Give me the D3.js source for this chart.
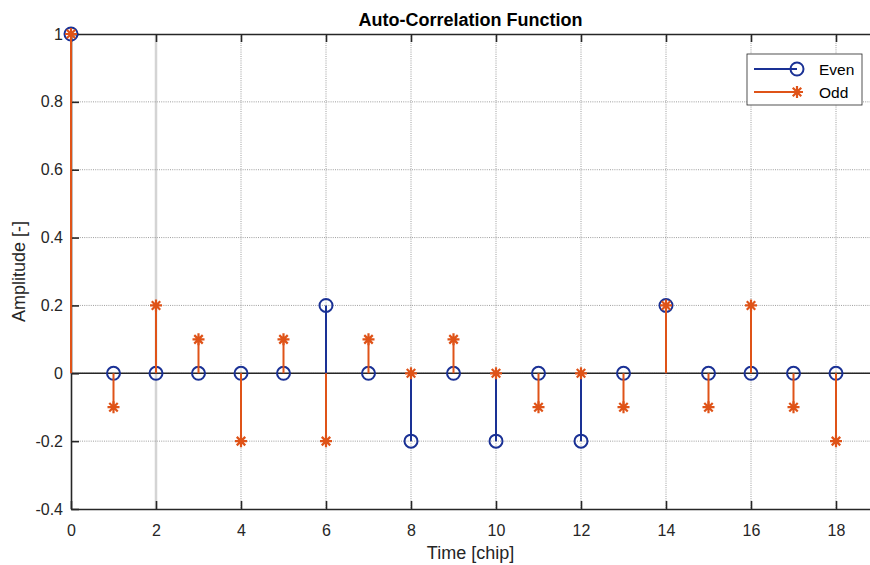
<!DOCTYPE html>
<html>
<head>
<meta charset="utf-8">
<script src="https://cdn.jsdelivr.net/npm/d3@7"></script>
<style>
  body { margin: 0; background: #fff; }
  text { font-family: "Liberation Sans", Arial, sans-serif; fill: #262626; }
</style>
</head>
<body>
<div id="chart"></div>
<script>
// data
const lags = [0, 1, 2, 3, 4, 5, 6, 7, 8, 9, 10, 11, 12, 13, 14, 15, 16, 17, 18];
const evenVals = [1, 0, 0, 0, 0, 0, 0.2, 0, -0.2, 0, -0.2, 0, -0.2, 0, 0.2, 0, 0, 0, 0];
const oddVals = [1, -0.1, 0.2, 0.1, -0.2, 0.1, -0.2, 0.1, 0, 0.1, 0, -0.1, 0, -0.1, 0.2, -0.1, 0.2, -0.1, -0.2];
const xTicks = [0, 2, 4, 6, 8, 10, 12, 14, 16, 18];
const yTicks = [-0.4, -0.2, 0, 0.2, 0.4, 0.6, 0.8, 1];
const yTickLabels = ["-0.4", "-0.2", "0", "0.2", "0.4", "0.6", "0.8", "1"];

const svgWidth = 870, svgHeight = 565;
const margin = { top: 34, right: 0, bottom: 56, left: 71 };
const width = svgWidth - margin.left - margin.right;
const height = svgHeight - margin.top - margin.bottom;

const blue = "#1a3195";
const orange = "#df5318";

const svg = d3.select("#chart").append("svg")
  .attr("width", svgWidth)
  .attr("height", svgHeight);

const g = svg.append("g").attr("transform", `translate(${margin.left},${margin.top})`);

const x = d3.scaleLinear([0, 18.8], [0, width]);
const y = d3.scaleLinear([-0.4, 1], [height, 0]);

// grid
g.append("g").selectAll("line")
  .data(xTicks.filter(d => d > 0))
  .enter().append("line")
  .attr("x1", d => x(d)).attr("x2", d => x(d))
  .attr("y1", 0).attr("y2", height)
  .attr("stroke", d => d === 2 ? "#d4d4d4" : "#858585")
  .attr("stroke-width", d => d === 2 ? 2.5 : 0.8)
  .attr("stroke-dasharray", d => d === 2 ? null : "1,1.2");

g.append("g").selectAll("line")
  .data(yTicks.filter(d => d > -0.4 && d < 1))
  .enter().append("line")
  .attr("x1", 0).attr("x2", width)
  .attr("y1", d => y(d)).attr("y2", d => y(d))
  .attr("stroke", "#858585")
  .attr("stroke-width", 0.8)
  .attr("stroke-dasharray", "1,1.2");

// axes
const xAxis = d3.axisBottom(x).tickValues(xTicks).tickSizeInner(-8).tickSizeOuter(0).tickPadding(14);
const yAxis = d3.axisLeft(y).tickValues(yTicks).tickSizeInner(-8).tickSizeOuter(0).tickPadding(14)
  .tickFormat((d, i) => yTickLabels[i]);

const gx = g.append("g").attr("transform", `translate(0,${height})`).call(xAxis);
const gy = g.append("g").call(yAxis);
const gTop = g.append("g").call(d3.axisTop(x).tickValues(xTicks).tickSizeInner(-8).tickSizeOuter(0).tickFormat(""));

[gx, gy, gTop].forEach(a => {
  a.select(".domain").attr("stroke", "#262626").attr("stroke-width", 1.6);
  a.selectAll(".tick line").attr("stroke", "#262626").attr("stroke-width", 1.6);
  a.selectAll("text").style("font-size", "16px").attr("fill", "#262626")
    .style("font-family", "'Liberation Sans', Arial, sans-serif");
});
gx.selectAll("text").attr("dy", "0.8em");
gy.selectAll("text").attr("dx", "6px");

// stem baseline
g.append("line")
  .attr("x1", 0).attr("x2", width)
  .attr("y1", y(0)).attr("y2", y(0))
  .attr("stroke", "#262626").attr("stroke-width", 1.6);

const evenData = lags.map((l, i) => ({ x: l, y: evenVals[i] }));
const oddData = lags.map((l, i) => ({ x: l, y: oddVals[i] }));

// even stems
g.append("g").selectAll("line")
  .data(evenData).enter().append("line")
  .attr("x1", d => x(d.x)).attr("x2", d => x(d.x))
  .attr("y1", y(0)).attr("y2", d => y(d.y))
  .attr("stroke", blue).attr("stroke-width", 2);

g.append("g").selectAll("circle")
  .data(evenData).enter().append("circle")
  .attr("cx", d => x(d.x)).attr("cy", d => y(d.y))
  .attr("r", 6.5)
  .attr("fill", "none").attr("stroke", blue).attr("stroke-width", 2);

// odd stems
g.append("g").selectAll("line")
  .data(oddData).enter().append("line")
  .attr("x1", d => x(d.x)).attr("x2", d => x(d.x))
  .attr("y1", y(0)).attr("y2", d => y(d.y))
  .attr("stroke", orange).attr("stroke-width", 2);

function asterisk(sel, r) {
  const p = [];
  for (let k = 0; k < 4; k++) {
    const a = k * Math.PI / 4;
    p.push(`M${-r * Math.cos(a)},${-r * Math.sin(a)}L${r * Math.cos(a)},${r * Math.sin(a)}`);
  }
  sel.attr("d", p.join(""));
}

g.append("g").selectAll("path")
  .data(oddData).enter().append("path")
  .attr("transform", d => `translate(${x(d.x)},${y(d.y)})`)
  .call(asterisk, 6)
  .attr("fill", "none").attr("stroke", orange).attr("stroke-width", 2.2);

// title and labels
svg.append("text")
  .attr("x", margin.left + x(9.4)).attr("y", 26)
  .attr("text-anchor", "middle")
  .style("font-size", "18px").style("font-weight", "bold")
  .style("fill", "#000")
  .text("Auto-Correlation Function");

svg.append("text")
  .attr("x", margin.left + x(9.4)).attr("y", 559)
  .attr("text-anchor", "middle")
  .style("font-size", "18px")
  .text("Time [chip]");

svg.append("text")
  .attr("transform", `translate(25,${margin.top + height / 2}) rotate(-90)`)
  .attr("text-anchor", "middle")
  .style("font-size", "18px")
  .text("Amplitude [-]");

// legend
const legend = svg.append("g").attr("transform", "translate(747,54)");
legend.append("rect")
  .attr("width", 115).attr("height", 51)
  .attr("fill", "#fff").attr("stroke", "#262626").attr("stroke-width", 0.8);

const legendItems = [
  { name: "Even", color: blue, marker: "o" },
  { name: "Odd", color: orange, marker: "*" }
];
legendItems.forEach((d, i) => {
  const ly = 15 + i * 23;
  legend.append("line")
    .attr("x1", 7).attr("x2", 50).attr("y1", ly).attr("y2", ly)
    .attr("stroke", d.color).attr("stroke-width", 2);
  if (d.marker === "o") {
    legend.append("circle").attr("cx", 50).attr("cy", ly).attr("r", 6.5)
      .attr("fill", "none").attr("stroke", d.color).attr("stroke-width", 2);
  } else {
    legend.append("path").attr("transform", `translate(50,${ly})`)
      .call(asterisk, 6)
      .attr("fill", "none").attr("stroke", d.color).attr("stroke-width", 2.2);
  }
  legend.append("text")
    .attr("x", 72).attr("y", ly + 5.5)
    .style("font-size", "15.5px")
    .style("fill", "#000")
    .text(d.name);
});
</script>
</body>
</html>
